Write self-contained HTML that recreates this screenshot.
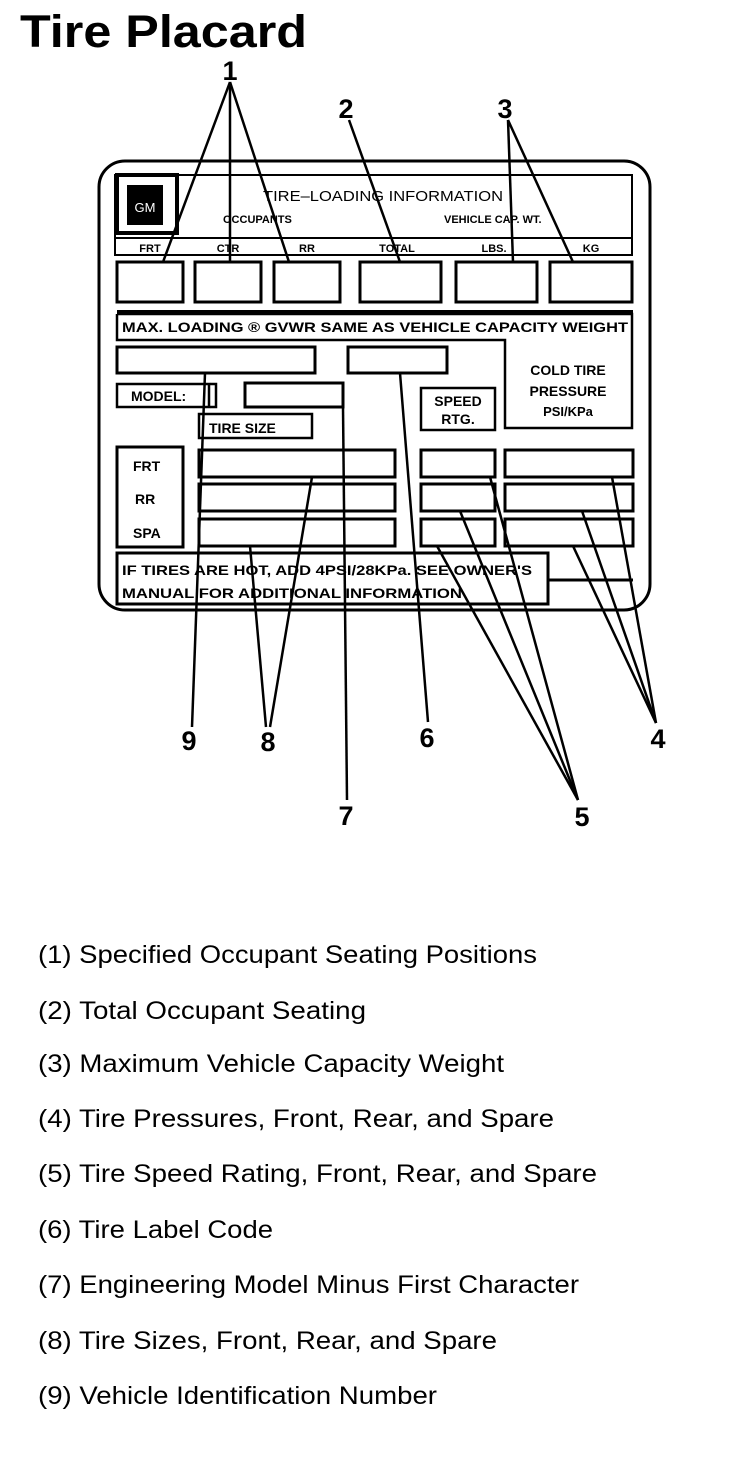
<!DOCTYPE html>
<html><head><meta charset="utf-8"><style>
body{margin:0;background:#fff;width:736px;height:1472px;overflow:hidden;font-family:"Liberation Sans",Arial,sans-serif}
svg{position:absolute;left:0;top:0}
</style></head><body>
<svg width="736" height="1472" viewBox="0 0 736 1472" font-family="Liberation Sans, Arial, sans-serif">
<text x="20" y="47" font-size="45" font-weight="bold" fill="#000" textLength="287" lengthAdjust="spacingAndGlyphs">Tire Placard</text>
<g fill="none" stroke="#000" stroke-width="3">
<rect x="99" y="161" width="551" height="449" rx="26"/>
<rect x="115" y="175" width="517" height="80" stroke-width="2"/>
<line x1="115" y1="238" x2="632" y2="238" stroke-width="2"/>
<rect x="117" y="175" width="60" height="58" stroke-width="4"/>
<rect x="117" y="262" width="66" height="40"/>
<rect x="195" y="262" width="66" height="40"/>
<rect x="274" y="262" width="66" height="40"/>
<rect x="360" y="262" width="81" height="40"/>
<rect x="456" y="262" width="81" height="40"/>
<rect x="550" y="262" width="82" height="40"/>
<line x1="117" y1="312" x2="633" y2="312" stroke-width="4"/>
<polyline points="117,314 632,314 632,428 505,428 505,340 117,340 117,314" stroke-width="2.5"/>
<rect x="117" y="347" width="198" height="26"/>
<rect x="348" y="347" width="99" height="26"/>
<rect x="117" y="384" width="92" height="23" stroke-width="2.5"/>
<polyline points="210,384 216,384 216,407 210,407" stroke-width="2.5"/>
<rect x="245" y="383" width="98" height="24"/>
<rect x="199" y="414" width="113" height="24" stroke-width="2.5"/>
<rect x="421" y="388" width="74" height="42" stroke-width="2.5"/>
<rect x="117" y="447" width="66" height="100"/>
<rect x="199" y="450" width="196" height="27"/>
<rect x="199" y="484" width="196" height="27"/>
<rect x="199" y="519" width="196" height="27"/>
<rect x="421" y="450" width="74" height="27"/>
<rect x="421" y="484" width="74" height="27"/>
<rect x="421" y="519" width="74" height="27"/>
<rect x="505" y="450" width="128" height="27"/>
<rect x="505" y="484" width="128" height="27"/>
<rect x="505" y="519" width="128" height="27"/>
<rect x="117" y="553" width="431" height="51"/>
<line x1="548" y1="580" x2="633" y2="580" stroke-width="3"/>
</g>
<rect x="127" y="185" width="36" height="40" fill="#000"/>
<text x="145" y="212" font-size="13" fill="#fff" text-anchor="middle">GM</text>
<g font-size="13" fill="#000">
<text x="263" y="201" font-size="15" textLength="240" lengthAdjust="spacingAndGlyphs">TIRE–LOADING INFORMATION</text>
<text x="223" y="223" font-size="11" font-weight="bold">OCCUPANTS</text>
<text x="444" y="223" font-size="11" font-weight="bold">VEHICLE CAP. WT.</text>
<g font-size="11" font-weight="bold" text-anchor="middle">
<text x="150" y="252">FRT</text><text x="228" y="252">CTR</text><text x="307" y="252">RR</text>
<text x="397" y="252">TOTAL</text><text x="494" y="252">LBS.</text><text x="591" y="252">KG</text>
</g>
<text x="122" y="332" font-size="14" font-weight="bold" textLength="506" lengthAdjust="spacingAndGlyphs">MAX. LOADING ® GVWR SAME AS VEHICLE CAPACITY WEIGHT</text>
<g font-size="14" font-weight="bold" text-anchor="middle">
<text x="568" y="375">COLD TIRE</text><text x="568" y="396">PRESSURE</text><text x="568" y="416" font-size="13">PSI/KPa</text>
<text x="458" y="406">SPEED</text><text x="458" y="424">RTG.</text>
</g>
<text x="131" y="401" font-size="14" font-weight="bold">MODEL:</text>
<text x="209" y="433" font-size="14" font-weight="bold">TIRE SIZE</text>
<g font-size="14" font-weight="bold">
<text x="133" y="471">FRT</text><text x="135" y="504">RR</text><text x="133" y="538">SPA</text>
</g>
<text x="122" y="575" font-size="14" font-weight="bold" textLength="410" lengthAdjust="spacingAndGlyphs">IF TIRES ARE HOT, ADD 4PSI/28KPa. SEE OWNER'S</text>
<text x="122" y="598" font-size="14" font-weight="bold" textLength="340" lengthAdjust="spacingAndGlyphs">MANUAL FOR ADDITIONAL INFORMATION</text>
</g>
<g stroke="#000" stroke-width="2.5" fill="none">
<line x1="230" y1="82" x2="163" y2="262"/><line x1="230" y1="82" x2="230" y2="262"/><line x1="230" y1="82" x2="289" y2="262"/>
<line x1="349" y1="120" x2="400" y2="262"/>
<line x1="508" y1="120" x2="513" y2="262"/><line x1="508" y1="120" x2="573" y2="262"/>
<line x1="192" y1="727" x2="205" y2="373"/>
<line x1="266" y1="727" x2="250" y2="546"/><line x1="270" y1="727" x2="312" y2="477"/>
<line x1="428" y1="722" x2="400" y2="373"/>
<line x1="347" y1="800" x2="343" y2="407"/>
<line x1="578" y1="800" x2="490" y2="477"/><line x1="578" y1="800" x2="460" y2="511"/><line x1="578" y1="800" x2="437" y2="546"/>
<line x1="656" y1="723" x2="612" y2="477"/><line x1="656" y1="723" x2="582" y2="511"/><line x1="656" y1="723" x2="573" y2="546"/>
</g>
<g font-size="27" font-weight="bold" fill="#000" text-anchor="middle">
<text x="230" y="80">1</text><text x="346" y="118">2</text><text x="505" y="118">3</text>
<text x="189" y="750">9</text><text x="268" y="751">8</text><text x="427" y="747">6</text>
<text x="658" y="748">4</text><text x="346" y="825">7</text><text x="582" y="826">5</text>
</g>
<g font-size="25" fill="#000" lengthAdjust="spacingAndGlyphs">
<text x="38" y="963" textLength="499" lengthAdjust="spacingAndGlyphs">(1) Specified Occupant Seating Positions</text>
<text x="38" y="1019" textLength="328" lengthAdjust="spacingAndGlyphs">(2) Total Occupant Seating</text>
<text x="38" y="1072" textLength="466" lengthAdjust="spacingAndGlyphs">(3) Maximum Vehicle Capacity Weight</text>
<text x="38" y="1127" textLength="516" lengthAdjust="spacingAndGlyphs">(4) Tire Pressures, Front, Rear, and Spare</text>
<text x="38" y="1182" textLength="559" lengthAdjust="spacingAndGlyphs">(5) Tire Speed Rating, Front, Rear, and Spare</text>
<text x="38" y="1238" textLength="235" lengthAdjust="spacingAndGlyphs">(6) Tire Label Code</text>
<text x="38" y="1293" textLength="541" lengthAdjust="spacingAndGlyphs">(7) Engineering Model Minus First Character</text>
<text x="38" y="1349" textLength="459" lengthAdjust="spacingAndGlyphs">(8) Tire Sizes, Front, Rear, and Spare</text>
<text x="38" y="1404" textLength="399" lengthAdjust="spacingAndGlyphs">(9) Vehicle Identification Number</text>
</g>
</svg>
</body></html>
